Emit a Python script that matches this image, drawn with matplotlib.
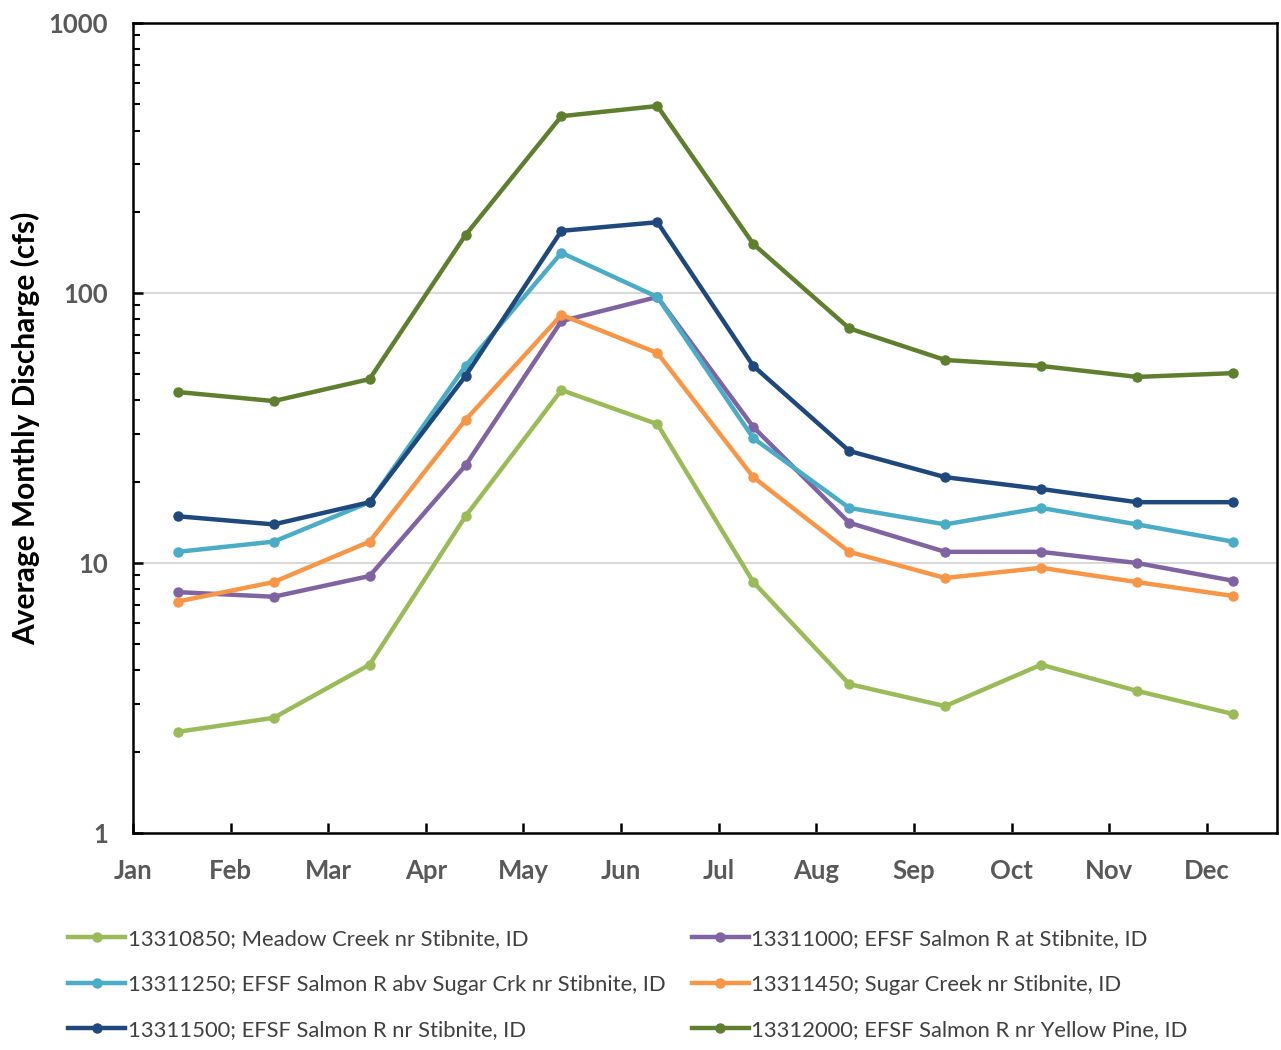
import matplotlib
matplotlib.use("Agg")
import matplotlib.pyplot as plt
import numpy as np

plt.rcParams['font.family'] = ['Lato', 'DejaVu Sans']

months = ['Jan', 'Feb', 'Mar', 'Apr', 'May', 'Jun', 'Jul', 'Aug', 'Sep', 'Oct', 'Nov', 'Dec']
# x positions of the monthly points (day units on the chart's date-like axis)
sample_day = [14, 44, 74, 104, 134, 164, 194, 224, 254, 284, 314, 344]

meadow_creek = [2.37, 2.67, 4.2, 14.9, 43.7, 32.7, 8.5, 3.56, 2.95, 4.2, 3.36, 2.76]
efsf_at_stibnite = [7.8, 7.5, 8.95, 23, 78.7, 96.7, 31.9, 14.1, 11, 11, 10, 8.6]
efsf_abv_sugar = [11, 12, 16.8, 53.7, 141, 96.7, 29, 16, 13.9, 16, 13.9, 12]
sugar_creek = [7.2, 8.5, 12, 33.9, 83, 60, 20.8, 11, 8.8, 9.6, 8.5, 7.55]
efsf_nr_stibnite = [14.9, 13.9, 16.8, 49.3, 170, 183, 53.7, 26, 20.8, 18.8, 16.8, 16.8]
efsf_yellow_pine = [43, 39.8, 48, 164, 452, 493, 152, 74, 56.5, 53.7, 48.9, 50.5]

series_labels = [
    '13310850; Meadow Creek nr Stibnite, ID',
    '13311000; EFSF Salmon R at Stibnite, ID',
    '13311250; EFSF Salmon R abv Sugar Crk nr Stibnite, ID',
    '13311450; Sugar Creek nr Stibnite, ID',
    '13311500; EFSF Salmon R nr Stibnite, ID',
    '13312000; EFSF Salmon R nr Yellow Pine, ID',
]
series_values = [meadow_creek, efsf_at_stibnite, efsf_abv_sugar,
                 sugar_creek, efsf_nr_stibnite, efsf_yellow_pine]
series_colors = ['#9BBB59', '#8064A2', '#4BACC6', '#F79646', '#1F497D', '#5F7F2F']

fig = plt.figure(figsize=(12.81, 10.5), dpi=100)
ax = fig.add_axes([0.1038, 0.2067, 0.8931, 0.7713])

handles = []
for vals, col, lab in zip(series_values, series_colors, series_labels):
    h, = ax.plot(sample_day, vals, color=col, lw=3.2, marker='o', ms=6.5,
                 label=lab, solid_joinstyle='round', zorder=3)
    handles.append(h)

ax.set_yscale('log')
ax.set_ylim(1, 1000)
ax.set_xlim(0, 357.8)

tick_pos = np.arange(12) * 30.53
ax.set_xticks(tick_pos)
ax.set_xticklabels(months)
ax.set_yticks([1, 10, 100, 1000])
ax.set_yticklabels(['1', '10', '100', '1000'])
ax.yaxis.set_minor_locator(matplotlib.ticker.LogLocator(base=10, subs=np.arange(2, 10)))
ax.yaxis.set_minor_formatter(matplotlib.ticker.NullFormatter())

ax.grid(axis='y', which='major', color='#D9D9D9', lw=1.5, zorder=0)
for s in ax.spines.values():
    s.set_linewidth(1.8)
    s.set_color('black')

ax.tick_params(axis='both', which='major', direction='in', length=7, width=1.8,
               labelsize=18.5, labelcolor='#595959')
ax.tick_params(axis='x', which='major', pad=19)
ax.tick_params(axis='y', which='major', pad=18)
ax.tick_params(axis='y', which='minor', direction='in', length=5, width=1.5)
ax.tick_params(axis='x', which='minor', bottom=False)
for t in ax.get_xticklabels() + ax.get_yticklabels():
    t.set_fontweight('bold')

ax.set_ylabel('Average Monthly Discharge (cfs)', fontsize=21.5, fontweight='bold',
              color='black', labelpad=6)

order = [0, 2, 4, 1, 3, 5]
leg = fig.legend([handles[i] for i in order], [series_labels[i] for i in order],
                 ncol=2, loc='upper left', bbox_to_anchor=(0.038, 0.134),
                 frameon=False, fontsize=15.8, handlelength=2.6, handletextpad=0.1,
                 columnspacing=1.2, labelspacing=1.16, labelcolor='#404040')

fig.savefig('out.png', dpi=100)
